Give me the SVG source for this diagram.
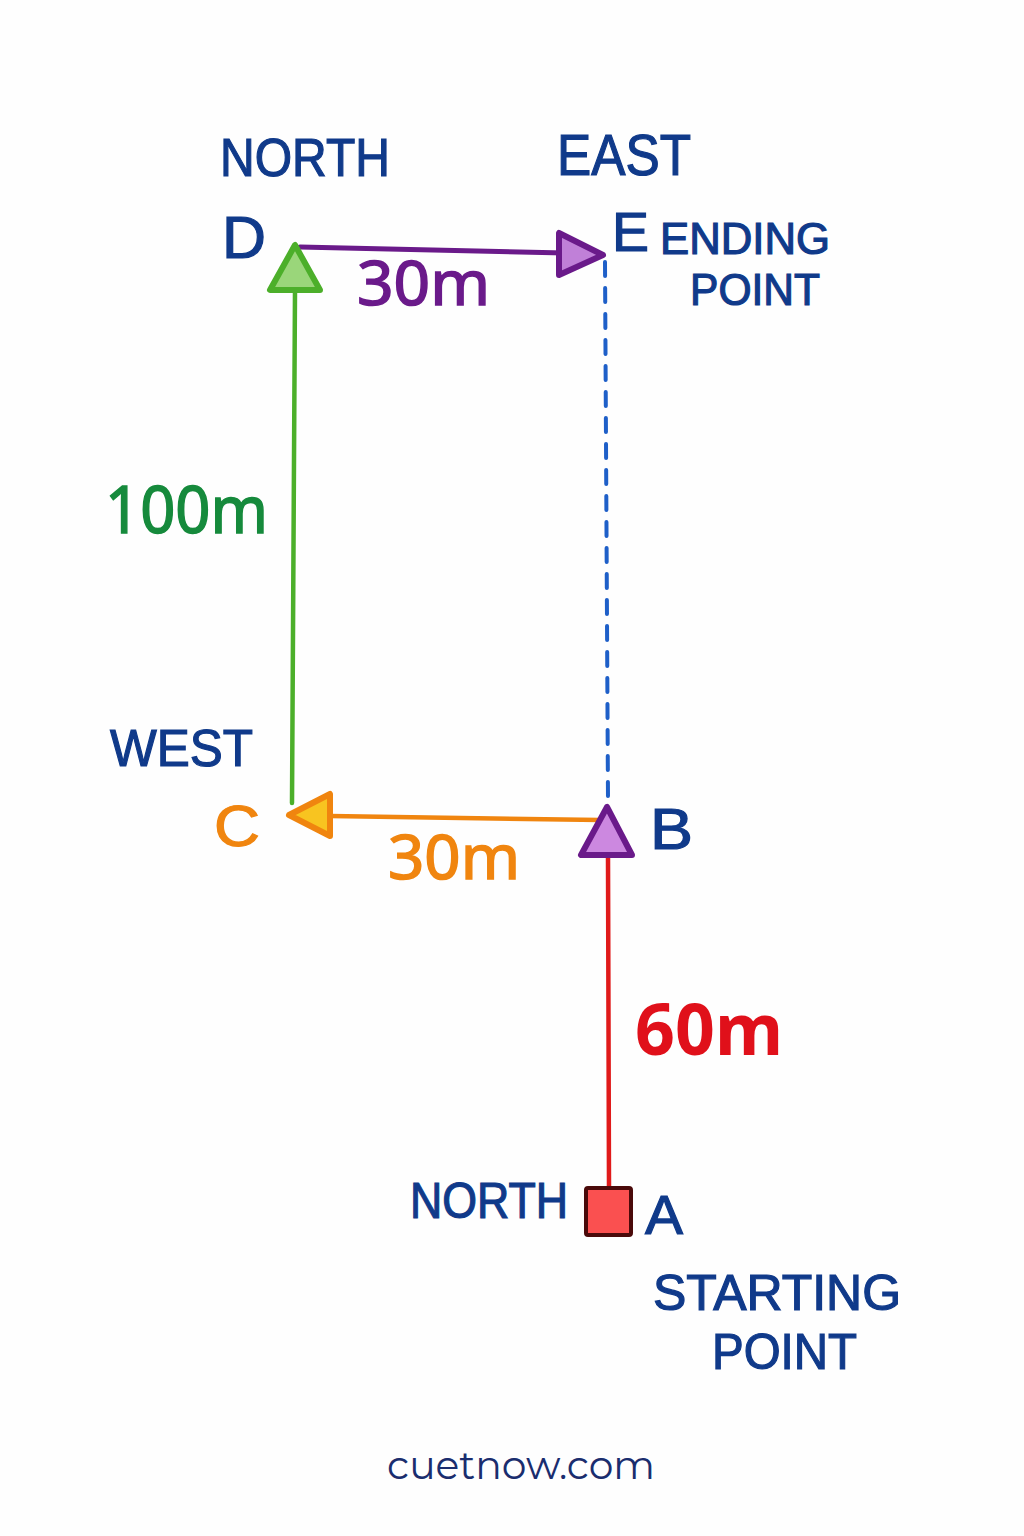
<svg xmlns="http://www.w3.org/2000/svg" width="1024" height="1536" viewBox="0 0 1024 1536">
<style>
.lbl{font-family:"Liberation Sans","Noto Sans",sans-serif;fill:#103a8a;stroke:#103a8a;stroke-width:1.2;}
.num{font-family:"Noto Sans","Liberation Sans",sans-serif;}
.num text{stroke-width:1.5;}
</style>
<rect width="1024" height="1536" fill="#fefefe"/>
<g id="connectors" fill="none" stroke-linecap="round">
  <line x1="295" y1="290" x2="292" y2="803" stroke="#4caf2a" stroke-width="4.5"/>
  <line x1="300" y1="247" x2="565" y2="253" stroke="#6a1a8a" stroke-width="5"/>
  <line x1="605" y1="262" x2="608" y2="800" stroke="#1e5fc8" stroke-width="4" stroke-dasharray="14 12"/>
  <line x1="600" y1="820" x2="330" y2="816" stroke="#f0850f" stroke-width="4.5"/>
  <line x1="608" y1="858" x2="609" y2="1187" stroke="#e01a1a" stroke-width="4.5"/>
  <polygon points="603,255 559,233 559,275" fill="#c080d8" stroke="#6a1a8a" stroke-width="6" stroke-linejoin="round"/>
  <polygon points="289,815 330,794 330,836" fill="#f8c420" stroke="#f0850f" stroke-width="6" stroke-linejoin="round"/>
</g>
<g id="node-D">
  <polygon points="295,245 270,290 320,290" fill="#9ad67a" stroke="#4caf2a" stroke-width="6" stroke-linejoin="round"/>
  <text class="lbl" x="220" y="176" font-size="54" textLength="170" lengthAdjust="spacingAndGlyphs">NORTH</text>
  <text class="lbl" x="222" y="258" font-size="60" textLength="44" lengthAdjust="spacingAndGlyphs">D</text>
</g>
<g id="node-E">
  <text class="lbl" x="557" y="175" font-size="58" textLength="134" lengthAdjust="spacingAndGlyphs">EAST</text>
  <text class="lbl" x="612" y="251" font-size="56" textLength="37" lengthAdjust="spacingAndGlyphs">E</text>
  <text class="lbl" x="660" y="254" font-size="44" textLength="170" lengthAdjust="spacingAndGlyphs">ENDING</text>
  <text class="lbl" x="690" y="305" font-size="44" textLength="130" lengthAdjust="spacingAndGlyphs">POINT</text>
</g>
<g id="node-C">
  <text class="lbl" x="110" y="766" font-size="52" textLength="143" lengthAdjust="spacingAndGlyphs">WEST</text>
  <text class="lbl" x="214" y="846" font-size="58" textLength="46" lengthAdjust="spacingAndGlyphs" style="fill:#f0850f;stroke:#f0850f">C</text>
</g>
<g id="node-B">
  <polygon points="607,807 581,855 632,855" fill="#cc88e0" stroke="#6a1a8a" stroke-width="6" stroke-linejoin="round"/>
  <text class="lbl" x="650" y="849" font-size="58" textLength="43" lengthAdjust="spacingAndGlyphs">B</text>
</g>
<g id="node-A">
  <rect x="586" y="1188" width="45" height="47" rx="2" fill="#fa5050" stroke="#4a0a0a" stroke-width="4"/>
  <text class="lbl" x="410" y="1218" font-size="50" textLength="158" lengthAdjust="spacingAndGlyphs">NORTH</text>
  <text class="lbl" x="645" y="1234" font-size="56" textLength="38" lengthAdjust="spacingAndGlyphs">A</text>
  <text class="lbl" x="653" y="1310" font-size="50" textLength="248" lengthAdjust="spacingAndGlyphs">STARTING</text>
  <text class="lbl" x="712" y="1369" font-size="50" textLength="145" lengthAdjust="spacingAndGlyphs">POINT</text>
</g>
<g id="labels" class="num">
  <text x="357" y="305" font-size="62" fill="#6a1a8a" stroke="#6a1a8a" textLength="133" lengthAdjust="spacingAndGlyphs">30m</text>
  <text x="105" y="533" font-size="66" fill="#168a3c" stroke="#168a3c" textLength="163" lengthAdjust="spacingAndGlyphs">100m</text>
  <text x="388" y="879" font-size="62" fill="#f0850f" stroke="#f0850f" textLength="132" lengthAdjust="spacingAndGlyphs">30m</text>
  <text x="635" y="1055" font-size="72" font-weight="bold" fill="#e0101a" textLength="148" lengthAdjust="spacingAndGlyphs">60m</text>
</g>
<text x="387" y="1479" font-family="Montserrat,'Noto Sans','Liberation Sans',sans-serif" font-size="40" fill="#1a2d6e" textLength="268" lengthAdjust="spacingAndGlyphs">cuetnow.com</text>
</svg>
